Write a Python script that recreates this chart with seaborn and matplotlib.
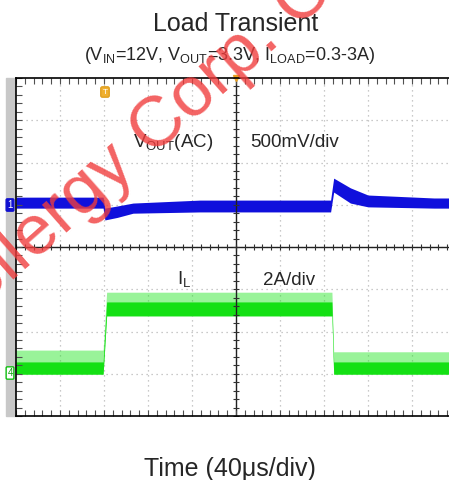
import numpy as np
import pandas as pd
import matplotlib
matplotlib.use("Agg")
import matplotlib.pyplot as plt
import seaborn as sns
from matplotlib.patches import Rectangle

# scope trace envelopes in divisions (x: 0-10, y: 0-8)
# CH1: VOUT (AC coupled), 500mV/div
vout_t = [0.0, 1.98, 2.02, 2.3, 2.66, 4.18, 7.15, 7.22, 7.6, 8.0, 9.5, 9.85]
vout_lo = [4.92, 4.92, 4.64, 4.70, 4.80, 4.83, 4.83, 5.30, 5.04, 4.95, 4.92, 4.92]
vout_hi = [5.18, 5.18, 4.92, 4.97, 5.04, 5.11, 5.11, 5.63, 5.40, 5.23, 5.16, 5.16]

# CH4: inductor current, 2A/div
il_t = [0.0, 1.98, 2.06, 7.18, 7.22, 9.85]
il_lo = [0.99, 0.99, 2.37, 2.37, 0.99, 0.99]
il_core = [1.28, 1.28, 2.70, 2.70, 1.28, 1.28]
il_peak = [1.56, 1.56, 2.93, 2.93, 1.52, 1.52]

W, H = 449, 480

sns.set_theme(style="white")
plt.rcParams['font.family'] = ['Liberation Sans', 'DejaVu Sans']
plt.rcParams['mathtext.fontset'] = 'custom'
plt.rcParams['mathtext.rm'] = 'Liberation Sans'


def fx(x):
    return x / W


def fy(y):
    return 1 - y / H


def band(ax, t, lo, hi, color, alpha=1.0):
    df = pd.DataFrame({'t': list(t) * 2, 'v': list(lo) + list(hi)})
    sns.lineplot(data=df, x='t', y='v', ax=ax, estimator='mean',
                 errorbar=('pi', 100), color=color, lw=0, legend=False,
                 err_kws={'alpha': alpha, 'linewidth': 0})


fig = plt.figure(figsize=(W / 100, H / 100), dpi=100)
fig.patch.set_facecolor('white')

# grey strip left of the screen
fig.add_artist(Rectangle((fx(6), fy(416)), fx(10), (416 - 78) / H,
                         transform=fig.transFigure, color='#c8c8c8', zorder=0))

ax = fig.add_axes([fx(16), fy(416), (W - 16) / W, (416 - 78) / H])
ax.set_facecolor('white')

# graticule
ax.set_xticks(np.arange(1, 10))
ax.set_yticks(np.arange(1, 8))
ax.grid(True, color='#b8b8b8', linestyle=(0, (1, 3)), lw=0.9)
ax.tick_params(length=0, labelbottom=False, labelleft=False)
ax.axhline(4, color='#202020', lw=1)
ax.axvline(5, color='#202020', lw=1)
xs = np.arange(0, 9.9, 0.2)
ys = np.arange(0, 8.01, 0.2)
ax.plot(xs, [4] * len(xs), ls='none', marker='|', ms=5, mew=0.8, color='#303030')
ax.plot([5] * len(ys), ys, ls='none', marker='_', ms=5, mew=0.8, color='#303030')
ax.plot(xs, [8] * len(xs), ls='none', marker=3, ms=4, mew=0.8, color='#505050', clip_on=False)
ax.plot(xs, [0] * len(xs), ls='none', marker=2, ms=4, mew=0.8, color='#505050', clip_on=False)
ax.plot([0] * len(ys), ys, ls='none', marker=1, ms=4, mew=0.8, color='#505050', clip_on=False)
for s in ['top', 'left', 'bottom']:
    ax.spines[s].set_color('black')
    ax.spines[s].set_linewidth(1.2)
ax.spines['right'].set_visible(False)

# traces
band(ax, il_t, il_lo, il_peak, '#1de51d', alpha=0.45)
band(ax, il_t, il_lo, il_core, '#14e014', alpha=1.0)
band(ax, vout_t, vout_lo, vout_hi, '#1010dc', alpha=1.0)
ax.set_xlim(0, (W - 16) / 44)
ax.set_ylim(0, 8)
ax.set_xlabel('')
ax.set_ylabel('')

# markers
ax.plot(5, 8, marker='v', color='#e8a020', ms=4, clip_on=False)
fig.text(fx(105), fy(92), 'T', ha='center', va='center', fontsize=6, color='white',
         bbox=dict(boxstyle='round,pad=0.2', fc='#f0b030', ec='#e0a020'))
fig.text(fx(10), fy(205), '1', ha='center', va='center', fontsize=7, color='white',
         zorder=5, bbox=dict(boxstyle='round,pad=0.12', fc='#1010d0', ec='#1010d0'))
fig.text(fx(10), fy(373), '4', ha='center', va='center', fontsize=7, color='#10a010',
         zorder=5, bbox=dict(boxstyle='round,pad=0.12', fc='white', ec='#10c010'))

# labels
fig.text(fx(236), fy(31), 'Load Transient', ha='center', va='baseline', fontsize=18)
fig.text(fx(230), fy(60),
         r'(V$_{\mathregular{IN}}$=12V, V$_{\mathregular{OUT}}$=3.3V, I$_{\mathregular{LOAD}}$=0.3-3A)',
         ha='center', va='baseline', fontsize=13)
fig.text(fx(133), fy(147), r'V$_{\mathregular{OUT}}$(AC)', ha='left', va='baseline', fontsize=13.5)
fig.text(fx(250), fy(147), '500mV/div', ha='left', va='baseline', fontsize=13.5)
fig.text(fx(177), fy(285), r'I$_{\mathregular{L}}$', ha='left', va='baseline', fontsize=13.5)
fig.text(fx(263), fy(285), '2A/div', ha='left', va='baseline', fontsize=13.5)
fig.text(fx(230), fy(476), 'Time (40\u03bcs/div)', ha='center', va='baseline', fontsize=18)

# watermark
fig.text(fx(-25), fy(314), 'Silergy Corp. Confidential', rotation=41.5,
         rotation_mode='anchor', ha='left', va='baseline', fontsize=51,
         color='#f03c3c', alpha=0.8, zorder=10)

fig.savefig('out.png', dpi=100)
